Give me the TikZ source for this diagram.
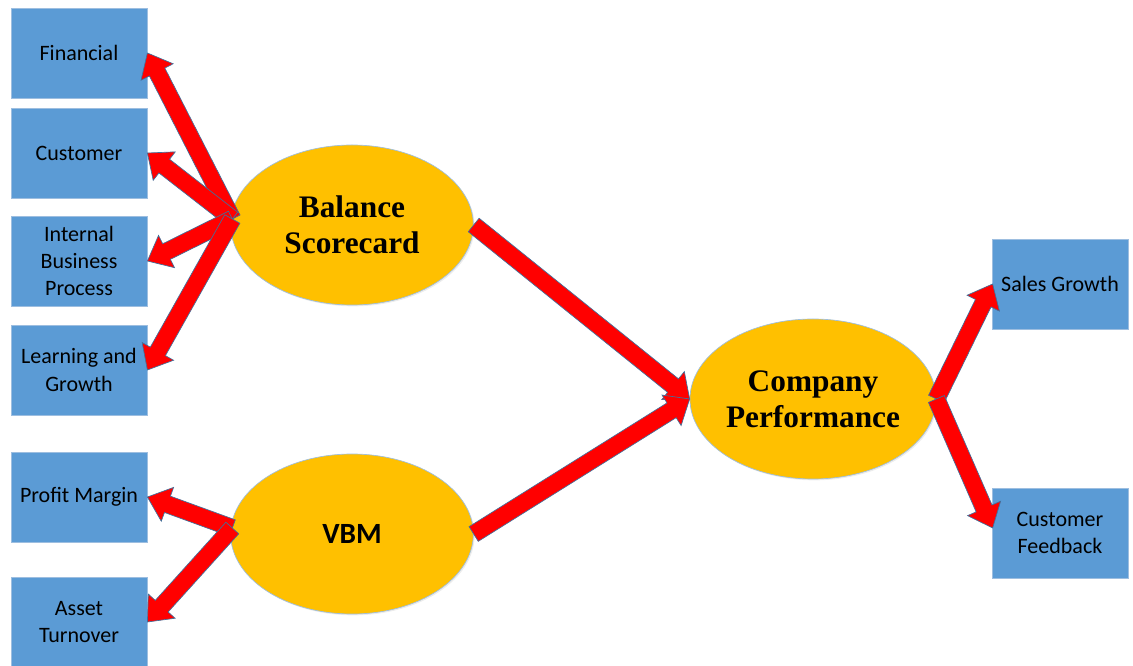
\documentclass[tikz,border=0pt]{standalone}
\usepackage{fontspec}
\setmainfont{Carlito}
\newfontfamily\headserif{Liberation Serif}
\usetikzlibrary{calc,shapes.geometric,shadows}

\definecolor{boxblue}{HTML}{5B9BD5}
\definecolor{boxedge}{HTML}{9DBEE0}
\definecolor{ovalgold}{HTML}{FFC000}
\definecolor{arrowred}{HTML}{FF0000}
\definecolor{arrowedge}{HTML}{41719C}

\tikzset{
  infobox/.style={rectangle, fill=boxblue, draw=boxedge, line width=0.6pt,
    minimum width=102pt, minimum height=67.5pt, inner sep=2pt, align=center,
    font=\fontsize{16.5}{20.5}\selectfont,
    drop shadow={opacity=0.18, shadow xshift=1pt, shadow yshift=-1pt}},
  hub/.style={ellipse, fill=ovalgold, draw=boxedge, line width=0.5pt,
    minimum width=182pt, minimum height=120pt, inner sep=0pt, align=center,
    font=\headserif\bfseries\fontsize{23.5}{27}\selectfont,
    drop shadow={opacity=0.15, shadow xshift=1pt, shadow yshift=-1pt}},
  fatarrow/.style={fill=arrowred, draw=arrowedge, line width=0.5pt, line join=miter}
}

% half shaft width, half head width, head length
\newcommand\shafthalf{6.5pt}
\newcommand\headhalf{13.5pt}
\newcommand\headlen{16pt}

% block arrow from #1 to #2 (tip at #2)
\newcommand\blockarrow[2]{%
  \coordinate (ba-h) at ($(#2)!\headlen!(#1)$);
  \draw[fatarrow]
    ($(#1)!\shafthalf!90:(#2)$) -- ($(ba-h)!\shafthalf!90:(#2)$)
    -- ($(ba-h)!\headhalf!90:(#2)$) -- (#2)
    -- ($(ba-h)!\headhalf!-90:(#2)$) -- ($(ba-h)!\shafthalf!-90:(#2)$)
    -- ($(#1)!\shafthalf!-90:(#2)$) -- cycle;}

\begin{document}
\begin{tikzpicture}[x=0.75pt, y=-0.75pt]
  \useasboundingbox (0,0) rectangle (1133,666);
  \clip (0,0) rectangle (1133,666);

  % left column
  \node[infobox] (fin)   at (79,53)  {Financial};
  \node[infobox] (cust)  at (79,153) {Customer};
  \node[infobox] (ibp)   at (79,261) {Internal\\Business\\Process};
  \node[infobox] (lg)    at (79,370) {Learning and\\Growth};
  \node[infobox] (pm)    at (79,497) {Profit Margin};
  \node[infobox] (at)    at (79,622) {Asset\\Turnover};

  % right column
  \node[infobox] (sg)    at (1060,284) {Sales Growth};
  \node[infobox] (cf)    at (1060,533) {Customer\\Feedback};

  % hubs
  \node[hub] (bsc) at (352,225) {Balance\\Scorecard};
  \node[hub, font=\bfseries\fontsize{22}{26}\selectfont] (vbm) at (352,534) {VBM};
  \node[hub] (cp)  at (813,399) {Company\\Performance};

  % arrow end points on the hubs and boxes
  \coordinate (bscL) at ($(bsc.west)+(2,-6)$);
  \coordinate (vbmL) at ($(vbm.west)+(2,-6)$);
  \coordinate (sgIn) at ($(sg.west)+(1,0)$);
  \coordinate (cfIn) at ($(cf.west)+(1,-5)$);

  % connectors
  \blockarrow{bscL}{fin.east}
  \blockarrow{bscL}{cust.east}
  \blockarrow{bscL}{ibp.east}
  \blockarrow{bscL}{lg.east}
  \blockarrow{vbmL}{pm.east}
  \blockarrow{vbmL}{at.east}
  \blockarrow{bsc.east}{cp.west}
  \blockarrow{vbm.east}{cp.west}
  \blockarrow{cp.east}{sgIn}
  \blockarrow{cp.east}{cfIn}
\end{tikzpicture}
\end{document}
